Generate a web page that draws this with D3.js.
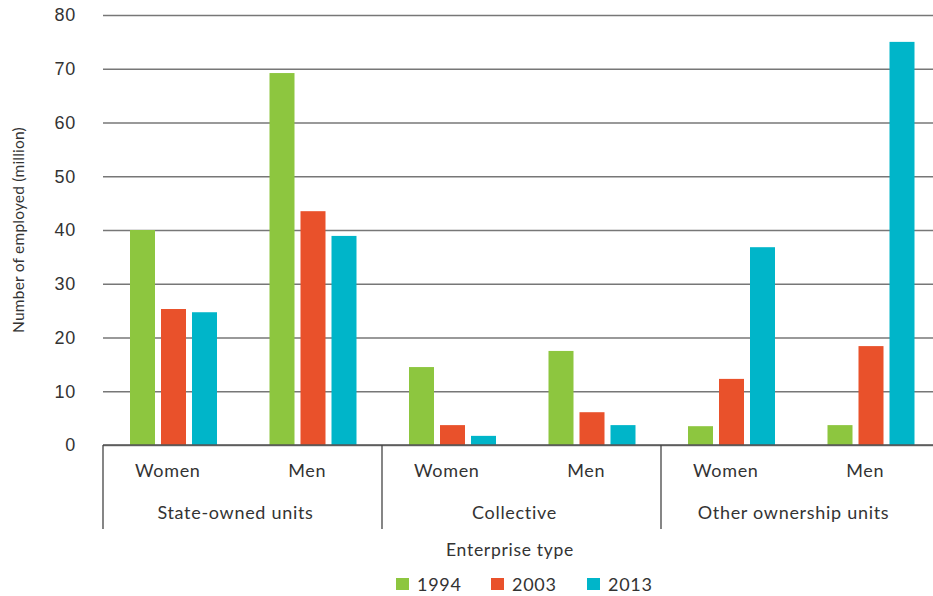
<!DOCTYPE html>
<html>
<head>
<meta charset="utf-8">
<script src="https://cdn.jsdelivr.net/npm/d3@7"></script>
<style>
  body { margin: 0; background: #fff; }
  svg { display: block; font-family: Lato, 'Noto Sans', sans-serif; }
  svg text { letter-spacing: 0.7px; }
  .axis text { fill: #333; }
</style>
</head>
<body>
<div class="vis"></div>
<script>
// data
const groups = ['State-owned units', 'Collective', 'Other ownership units']
const sexes = ['Women', 'Men']
const years = ['1994', '2003', '2013']
const values1994 = [40.0, 69.2, 14.5, 17.5, 3.5, 3.7]
const values2003 = [25.3, 43.5, 3.7, 6.1, 12.3, 18.4]
const values2013 = [24.7, 38.9, 1.7, 3.7, 36.8, 75.0]
const yTicks = [0, 10, 20, 30, 40, 50, 60, 70, 80]

const color = d3.scaleOrdinal(years, ['#8dc63f', '#e9512b', '#00b5c9'])

// one row per sub-category (group x sex)
const rows = []
groups.forEach(g => sexes.forEach(s => rows.push({ group: g, sex: s, key: `${g}|${s}` })))
rows.forEach((r, i) => {
  r['1994'] = values1994[i]
  r['2003'] = values2003[i]
  r['2013'] = values2013[i]
})

const width = 933
const height = 596
const plotLeft = 103
const plotTop = 15
const plotBottom = 445

const svg = d3
  .select('.vis')
  .append('svg')
  .attr('width', width)
  .attr('height', height)

// scales
const x0 = d3
  .scaleBand()
  .domain(rows.map(d => d.key))
  .range([plotLeft, plotLeft + 6 * 139.5])

const x1 = d3
  .scaleBand()
  .domain(years)
  .range([27, 114])
  .paddingInner(6 / 31)

const xGroup = d3
  .scaleBand()
  .domain(groups)
  .range([plotLeft, plotLeft + 6 * 139.5])

const y = d3.scaleLinear().domain([0, 80]).range([plotBottom, plotTop])

// y axis with gridlines
const yAxis = d3
  .axisRight(y)
  .tickValues(yTicks)
  .tickSize(width - plotLeft)
  .tickFormat(d => d)

svg
  .append('g')
  .attr('class', 'y axis')
  .attr('transform', `translate(${plotLeft},0)`)
  .call(yAxis)
  .call(g => g.select('.domain').remove())
  .call(g =>
    g
      .selectAll('.tick line')
      .attr('stroke', '#777')
      .attr('stroke-width', 1.5)
  )
  .call(g =>
    g
      .selectAll('.tick text')
      .attr('x', -27)
      .attr('text-anchor', 'end')
      .attr('font-size', 18)
      .attr('dy', '0.32em')
  )

svg
  .append('text')
  .attr('transform', `translate(24,${(plotTop + plotBottom) / 2}) rotate(-90)`)
  .attr('text-anchor', 'middle')
  .attr('font-size', 15.5)
  .attr('fill', '#333')
  .style('letter-spacing', '0.2px')
  .text('Number of employed (million)')

// bars
const cat = svg
  .selectAll('.cat')
  .data(rows)
  .enter()
  .append('g')
  .attr('class', 'cat')
  .attr('transform', d => `translate(${x0(d.key)},0)`)

cat
  .selectAll('rect')
  .data(d => years.map(yr => ({ year: yr, value: d[yr] })))
  .enter()
  .append('rect')
  .attr('x', d => x1(d.year))
  .attr('y', d => y(d.value))
  .attr('width', x1.bandwidth())
  .attr('height', d => y(0) - y(d.value))
  .attr('fill', d => color(d.year))

// baseline
svg
  .append('line')
  .attr('x1', plotLeft)
  .attr('x2', width)
  .attr('y1', y(0))
  .attr('y2', y(0))
  .attr('stroke', '#555')
  .attr('stroke-width', 1.5)

// group separators
svg
  .selectAll('.sep')
  .data(groups)
  .enter()
  .append('line')
  .attr('class', 'sep')
  .attr('x1', d => xGroup(d))
  .attr('x2', d => xGroup(d))
  .attr('y1', y(0))
  .attr('y2', 529)
  .attr('stroke', '#444')
  .attr('stroke-width', 1.3)

// sub labels
svg
  .selectAll('.sub')
  .data(rows)
  .enter()
  .append('text')
  .attr('class', 'sub')
  .attr('x', d => x0(d.key) + x0.bandwidth() / 2 - 5)
  .attr('y', 477)
  .attr('text-anchor', 'middle')
  .attr('font-size', 18)
  .attr('fill', '#333')
  .text(d => d.sex)

// group labels
svg
  .selectAll('.grp')
  .data(groups)
  .enter()
  .append('text')
  .attr('class', 'grp')
  .attr('x', d => xGroup(d) + xGroup.bandwidth() / 2 - 7)
  .attr('y', 519)
  .attr('text-anchor', 'middle')
  .attr('font-size', 18)
  .attr('fill', '#333')
  .text(d => d)

svg
  .append('text')
  .attr('x', 510)
  .attr('y', 556)
  .attr('text-anchor', 'middle')
  .attr('font-size', 17.5)
  .attr('fill', '#333')
  .text('Enterprise type')

// legend
const legendX = d3.scaleOrdinal(years, [396, 491, 587])
const legend = svg
  .selectAll('.legend')
  .data(years)
  .enter()
  .append('g')
  .attr('class', 'legend')
  .attr('transform', d => `translate(${legendX(d)},578)`)

legend
  .append('rect')
  .attr('width', 13)
  .attr('height', 12)
  .attr('fill', d => color(d))

legend
  .append('text')
  .attr('x', 21)
  .attr('y', 13)
  .attr('font-size', 18)
  .attr('fill', '#333')
  .text(d => d)
</script>
</body>
</html>
